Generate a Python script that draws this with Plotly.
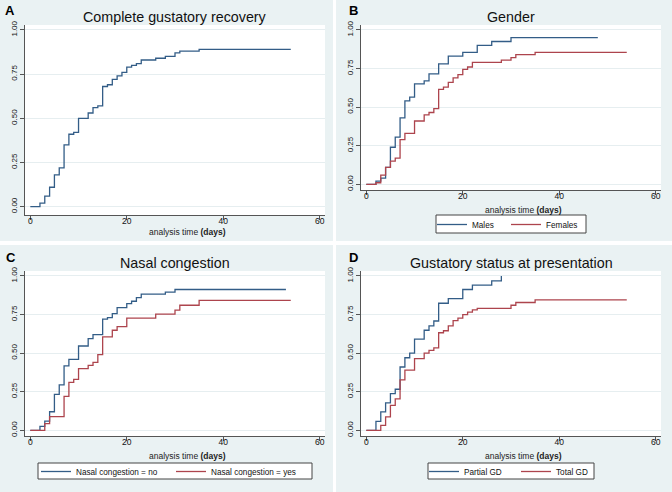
import plotly.graph_objects as go

# ---------------- data ----------------
# Panel A: complete gustatory recovery (overall)
a_days = [0, 2, 3, 4, 5, 6, 7, 8, 9, 10, 12, 13, 14, 15, 16, 17, 18, 19, 20, 21, 22, 23, 26, 28, 30, 31, 35, 54]
a_fail = [0, 0.02, 0.06, 0.11, 0.18, 0.22, 0.35, 0.41, 0.42, 0.50, 0.53, 0.56, 0.57, 0.68, 0.69, 0.72, 0.74,
          0.76, 0.79, 0.80, 0.81, 0.83, 0.84, 0.85, 0.87, 0.88, 0.89, 0.89]

# Panel B: gender
males_days = [0, 2, 3, 4, 5, 6, 7, 8, 9, 10, 12, 13, 15, 17, 20, 23, 26, 30, 48]
males_fail = [0, 0.02, 0.04, 0.11, 0.24, 0.305, 0.43, 0.54, 0.565, 0.65, 0.67, 0.715, 0.78, 0.83, 0.855,
              0.90, 0.925, 0.95, 0.95]
females_days = [0, 2, 3, 4, 5, 6, 7, 8, 10, 12, 13, 14, 15, 16, 17, 18, 19, 20, 21, 22, 28, 30, 31, 35, 54]
females_fail = [0, 0.01, 0.06, 0.11, 0.15, 0.17, 0.29, 0.33, 0.41, 0.45, 0.465, 0.49, 0.615, 0.63, 0.66,
                0.69, 0.71, 0.745, 0.76, 0.79, 0.805, 0.82, 0.84, 0.855, 0.855]

# Panel C: nasal congestion
nc_no_days = [0, 2, 3, 4, 5, 6, 7, 8, 10, 12, 13, 15, 16, 17, 18, 20, 21, 22, 23, 28, 30, 53]
nc_no_fail = [0, 0.026, 0.06, 0.12, 0.233, 0.294, 0.417, 0.46, 0.546, 0.594, 0.62, 0.72, 0.73, 0.756,
              0.795, 0.82, 0.836, 0.86, 0.882, 0.895, 0.912, 0.912]
nc_yes_days = [0, 3, 4, 7, 8, 9, 10, 12, 13, 14, 15, 17, 18, 20, 26, 30, 31, 35, 54]
nc_yes_fail = [0, 0.043, 0.088, 0.22, 0.31, 0.33, 0.40, 0.42, 0.44, 0.49, 0.605, 0.648, 0.672, 0.727,
               0.752, 0.778, 0.81, 0.842, 0.842]

# Panel D: gustatory status at presentation
partial_days = [0, 2, 3, 4, 5, 6, 7, 8, 9, 10, 12, 13, 14, 15, 17, 20, 22, 26, 28]
partial_fail = [0, 0.058, 0.119, 0.177, 0.237, 0.266, 0.41, 0.47, 0.50, 0.59, 0.648, 0.676, 0.708, 0.823,
                0.853, 0.912, 0.94, 0.968, 1.0]
total_days = [0, 3, 4, 5, 6, 7, 8, 10, 12, 13, 14, 15, 16, 17, 18, 19, 20, 21, 22, 23, 30, 31, 35, 54]
total_fail = [0, 0.032, 0.087, 0.162, 0.204, 0.326, 0.39, 0.464, 0.5, 0.518, 0.534, 0.632, 0.645, 0.677,
              0.71, 0.727, 0.75, 0.765, 0.78, 0.79, 0.81, 0.828, 0.845, 0.845]

x_ticks = [0, 20, 40, 60]
y_ticks = [0, 0.25, 0.5, 0.75, 1.0]
y_ticktext = ["0.00", "0.25", "0.50", "0.75", "1.00"]

panel_titles = ["Complete gustatory recovery", "Gender", "Nasal congestion", "Gustatory status at presentation"]
panel_letters = ["A", "B", "C", "D"]
x_title = "analysis time <b>(days)</b>"

# ---------------- styling / layout ----------------
W, H = 672, 492
FONT = "Liberation Sans, Arial, sans-serif"
BLUE = "#335d87"
RED = "#ad444d"
PANEL_BG = "#eaf2f3"
GRID = "#e6eef0"
AXIS = "#555555"


def fx(px):
    return px / W


def fy(px):
    return 1 - px / H


# plot-area pixel boxes (left, top, right, bottom)
plot_boxes = [(25, 25, 325, 215), (361, 25, 661, 190), (25, 271, 325, 436), (361, 271, 661, 436)]
panel_boxes = [(0, 0, 333, 241), (336, 0, 672, 241), (0, 245, 333, 492), (336, 245, 672, 492)]
y_ranges = [[-0.047, 1.028], [-0.037, 1.032], [-0.037, 1.032], [-0.037, 1.032]]
x_range = [-1.1, 61.1]
title_y = [17, 17, 263, 263]
letter_pos = [(10, 11), (353, 11), (11, 257), (353, 257)]
xtitle_y = [232, 210, 456, 456]
xtitle_dx = 12
# legend frames (left, top, right, bottom) and first-swatch x position
legend_frames = {"legend": (436, 215, 586, 233), "legend2": (38, 463, 312, 479), "legend3": (428, 463, 594, 479)}
legend_first_x = {"legend": 439, "legend2": 43, "legend3": 431}
legend_entry_w = {"legend": 29, "legend2": 90, "legend3": 47}

fig = go.Figure()

series = [
    [(a_days, a_fail, BLUE, "Complete recovery", None)],
    [(males_days, males_fail, BLUE, "Males", "legend"), (females_days, females_fail, RED, "Females", "legend")],
    [(nc_no_days, nc_no_fail, BLUE, "Nasal congestion = no", "legend2"),
     (nc_yes_days, nc_yes_fail, RED, "Nasal congestion = yes", "legend2")],
    [(partial_days, partial_fail, BLUE, "Partial GD", "legend3"),
     (total_days, total_fail, RED, "Total GD", "legend3")],
]

for i, group in enumerate(series):
    suffix = "" if i == 0 else str(i + 1)
    for days, fail, color, name, leg in group:
        kw = dict(x=days, y=fail, mode="lines", line=dict(color=color, width=1.3, shape="hv"),
                  name=name, xaxis="x" + suffix, yaxis="y" + suffix, hoverinfo="skip")
        if leg is None:
            kw["showlegend"] = False
        else:
            kw["legend"] = leg
        fig.add_trace(go.Scatter(**kw))

shapes = []
annotations = []
layout_axes = {}
for i in range(4):
    suffix = "" if i == 0 else str(i + 1)
    l, t, r, b = plot_boxes[i]
    pl, pt, pr, pb = panel_boxes[i]
    shapes.append(dict(type="rect", xref="paper", yref="paper", x0=fx(pl), x1=fx(pr), y0=fy(pb), y1=fy(pt),
                       fillcolor=PANEL_BG, line=dict(width=0), layer="below"))
    shapes.append(dict(type="rect", xref="x" + suffix + " domain", yref="y" + suffix + " domain",
                       x0=0, x1=1, y0=0, y1=1, fillcolor="white", line=dict(width=0), layer="below"))
    layout_axes["xaxis" + suffix] = dict(
        domain=[fx(l), fx(r)], range=x_range, tickvals=x_ticks, ticks="outside", ticklen=4, tickwidth=1,
        tickcolor=AXIS, showline=True, linecolor=AXIS, linewidth=1, showgrid=False, zeroline=False,
        anchor="y" + suffix, tickfont=dict(size=8.5, color="#111"), ticklabelstandoff=-6, fixedrange=True)
    layout_axes["yaxis" + suffix] = dict(
        domain=[fy(b), fy(t)], range=y_ranges[i], tickvals=y_ticks, ticktext=y_ticktext, tickangle=-90,
        ticks="outside", ticklen=4, tickwidth=1, tickcolor=AXIS, showline=True, linecolor=AXIS, linewidth=1,
        showgrid=True, gridcolor=GRID, gridwidth=1, zeroline=False, anchor="x" + suffix,
        tickfont=dict(size=8, color="#111"), fixedrange=True)
    cx = (l + r) / 2
    annotations.append(dict(text=panel_titles[i], x=fx(cx), y=fy(title_y[i]), xref="paper", yref="paper",
                            showarrow=False, xanchor="center", yanchor="middle",
                            font=dict(size=14.3, color="#111", family=FONT)))
    lx, ly = letter_pos[i]
    annotations.append(dict(text="<b>" + panel_letters[i] + "</b>", x=fx(lx), y=fy(ly), xref="paper",
                            yref="paper", showarrow=False, xanchor="center", yanchor="middle",
                            font=dict(size=13, color="#000", family=FONT)))
    annotations.append(dict(text=x_title, x=fx(cx + xtitle_dx), y=fy(xtitle_y[i]), xref="paper", yref="paper",
                            showarrow=False, xanchor="center", yanchor="middle",
                            font=dict(size=8.5, color="#222", family=FONT)))

legends = {}
for key, (l, t, r, b) in legend_frames.items():
    # white frame behind the legend entries
    shapes.append(dict(type="rect", xref="paper", yref="paper", x0=fx(l), x1=fx(r), y0=fy(b), y1=fy(t),
                       fillcolor="white", line=dict(color="#444", width=1), layer="below"))
    cy = (t + b) / 2
    legends[key] = dict(orientation="h", xanchor="left", yanchor="top", x=fx(legend_first_x[key] - 7),
                        y=fy(cy - 14), bgcolor="rgba(0,0,0,0)", borderwidth=0,
                        font=dict(size=8.2, color="#111", family=FONT), entrywidthmode="pixels",
                        entrywidth=legend_entry_w[key], itemclick=False, itemdoubleclick=False)

fig.update_layout(
    width=W, height=H, margin=dict(l=0, r=0, t=0, b=0, autoexpand=False),
    paper_bgcolor="white", plot_bgcolor="white",
    font=dict(family=FONT, color="#111"),
    shapes=shapes, annotations=annotations,
    **legends,
    **layout_axes,
)

fig.write_html("out.html", config={"displayModeBar": False, "staticPlot": True},
               post_script="document.body.style.margin='0';document.body.style.padding='0';")
